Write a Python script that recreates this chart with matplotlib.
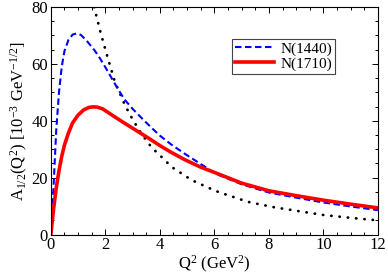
import matplotlib
matplotlib.use("Agg")
import matplotlib.pyplot as plt
from matplotlib.ticker import MultipleLocator

plt.rcParams['font.family'] = ['Liberation Serif', 'DejaVu Serif']
plt.rcParams['mathtext.fontset'] = 'custom'
plt.rcParams['mathtext.rm'] = 'Liberation Serif'
plt.rcParams['mathtext.it'] = 'Liberation Serif:italic'

# N(1440) dashed blue
q2_1440 = [0, 0.05, 0.1, 0.2, 0.3, 0.4, 0.5, 0.65, 0.8, 0.95, 1.1, 1.3, 1.6, 1.8,
           2.05, 2.4, 2.7, 3.0, 3.4, 3.7, 4.0, 4.4, 4.9, 5.5, 6.1, 7.0, 8.0, 9.0,
           10.0, 11.0, 12.0]
a_1440 = [0, 8, 17, 37, 50, 59, 64.5, 68.5, 70.3, 70.7, 70.2, 68.3, 64.8, 62,
          58, 52.2, 47.5, 44.2, 40.3, 37.5, 34.8, 31.8, 28.5, 24.8, 21.2, 17.7,
          14.8, 13.0, 11.3, 9.9, 8.6]

# N(1710) solid red
q2_1710 = [0, 0.05, 0.1, 0.2, 0.3, 0.4, 0.5, 0.65, 0.8, 1.0, 1.2, 1.4, 1.55, 1.7,
           1.9, 2.2, 2.6, 3.0, 3.6, 4.0, 4.4, 4.9, 5.5, 6.1, 7.0, 8.0, 9.0, 10.0,
           11.0, 12.0]
a_1710 = [0, 4.5, 9, 16.5, 22.5, 27.5, 31.5, 35.8, 39.3, 42, 43.8, 44.7, 44.9,
          44.8, 44.2, 42.3, 39.8, 37.4, 33.8, 31.3, 29.0, 26.4, 23.7, 21.5, 18.1,
          15.4, 13.7, 12.1, 10.7, 9.4]

# dotted black curve
q2_dot = [1.59, 1.8, 2.04, 2.35, 2.72, 3.0, 3.3, 3.7, 4.0, 4.43, 5.16, 5.96, 6.2,
          7.24, 8.2, 10.0, 11.0, 12.0]
a_dot = [80, 71.9, 63.7, 53.7, 45.5, 40.5, 35.8, 30.6, 27.9, 23.8, 19.2, 15.7,
         14.8, 11.5, 9.6, 6.9, 5.9, 5.0]

fig = plt.figure(figsize=(3.88, 2.78), dpi=100)
ax = fig.add_axes([0.131, 0.156, 0.843, 0.819])

ax.plot(q2_dot, a_dot, color='black', lw=2.0, linestyle=(0, (0.1, 2.9)),
        dash_capstyle='round')
ax.plot(q2_1440, a_1440, color='#0000ff', lw=1.5, linestyle=(0, (3.1, 1.7)),
        label='N(1440)')
ax.plot(q2_1710, a_1710, color='#ff0000', lw=2.6, label='N(1710)')

ax.set_xlim(0, 12)
ax.set_ylim(0, 80)
ax.xaxis.set_major_locator(MultipleLocator(2))
ax.xaxis.set_minor_locator(MultipleLocator(0.5))
ax.yaxis.set_major_locator(MultipleLocator(20))
ax.yaxis.set_minor_locator(MultipleLocator(5))
ax.tick_params(which='both', direction='in', top=True, right=True,
               labelsize=12, width=0.7, pad=2)
ax.tick_params(which='major', length=4.5)
ax.tick_params(which='minor', length=2.3)
for s in ax.spines.values():
    s.set_linewidth(0.8)

ax.set_xlabel(r'Q$^2$ (GeV$^2$)', fontsize=12, labelpad=0)
ax.set_ylabel(r'A$_{1/2}$(Q$^2$) [10$^{-3}$ GeV$^{-1/2}$]', fontsize=12, labelpad=1)

leg = ax.legend(loc='upper left', bbox_to_anchor=(0.553, 0.859), fontsize=11,
                fancybox=False, framealpha=1, edgecolor='#444444',
                handlelength=2.6, handletextpad=0.4, borderpad=0.2,
                labelspacing=0.05, borderaxespad=0)
leg.get_frame().set_linewidth(0.8)

fig.savefig('out.png', dpi=100)
